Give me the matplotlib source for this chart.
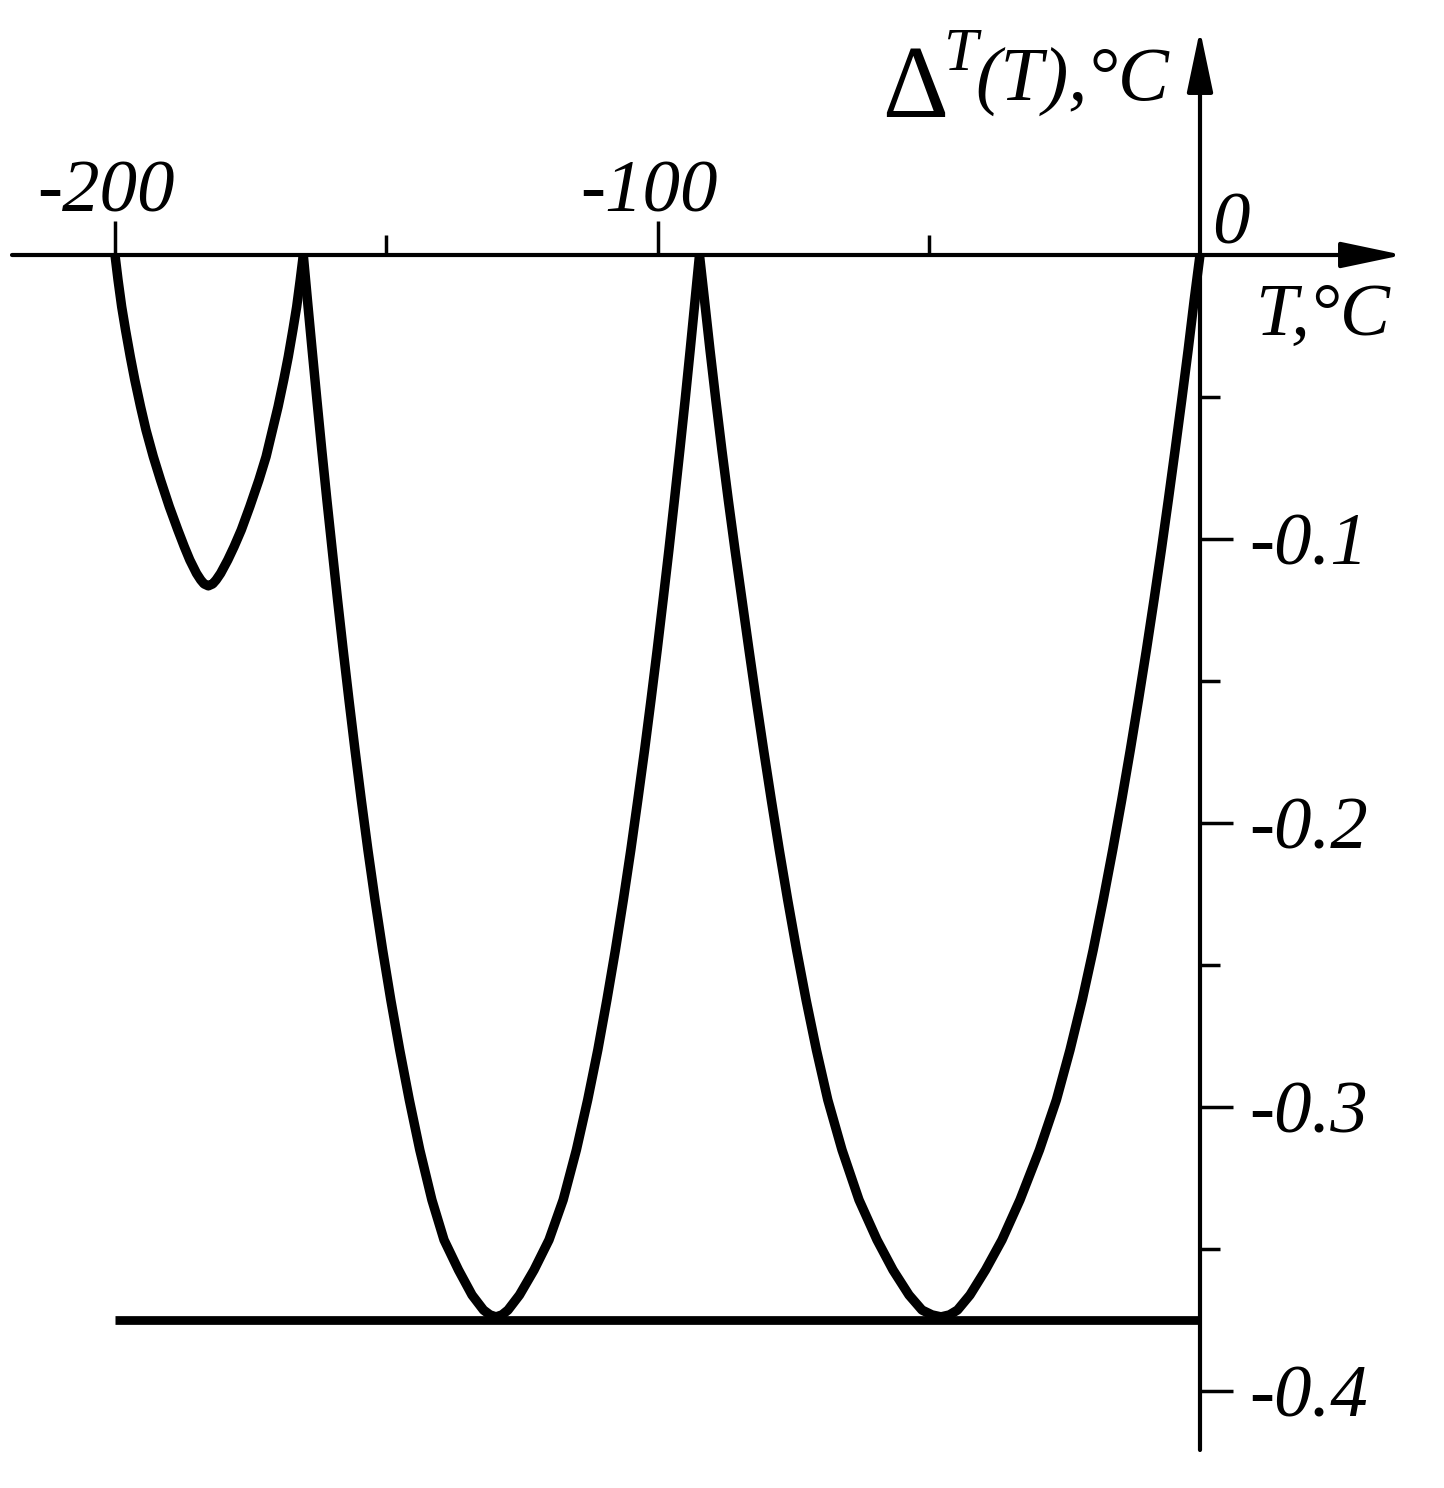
import matplotlib.pyplot as plt
import numpy as np

# error curve: three arcs between the zero points,
# each given as left branch down to the minimum, then right branch back up
t_arc1 = [-200.00, -199.44, -198.77, -198.06, -197.18, -196.35, -195.29, -194.29, -192.94,
          -191.61, -189.99, -188.42, -187.23, -186.21, -184.98, -184.20, -183.59, -182.80,
          -181.99, -181.35, -180.53, -179.21, -178.05, -176.72, -175.15, -173.47, -172.15,
          -170.97, -169.94, -168.90, -168.06, -167.21, -166.51, -165.86, -165.29]
d_arc1_levels = [0.0, -0.0088, -0.0182, -0.0264, -0.0358, -0.0440, -0.0534, -0.0616, -0.0710,
                 -0.0792, -0.0886, -0.0968, -0.1027, -0.1074, -0.1121, -0.1144, -0.1158, -0.1165]

t_arc2 = [-165.29, -164.53, -163.66, -162.78, -161.88, -160.94, -159.96, -158.97, -157.94,
          -156.87, -155.76, -154.60, -153.38, -152.07, -150.67, -149.16, -147.52, -145.75,
          -143.82, -141.59, -139.35, -136.68, -134.19, -132.07, -130.88, -129.77,
          -128.66, -127.56, -125.44, -122.76, -120.00, -117.39, -114.95, -112.87, -111.00,
          -109.33, -107.76, -106.30, -104.92, -103.63, -102.38, -101.20, -100.06, -98.97,
          -97.90, -96.88, -95.88, -94.91, -93.98, -93.07, -92.26]

t_arc3 = [-92.26, -91.34, -90.32, -89.25, -88.13, -86.95, -85.71, -84.42, -83.13,
          -81.81, -80.44, -79.02, -77.55, -76.00, -74.36, -72.61, -70.71, -68.61,
          -65.99, -62.86, -59.54, -56.59, -53.64, -51.24, -49.40, -47.74,
          -46.18, -44.70, -42.40, -39.54, -36.50, -33.18, -29.59, -26.47, -23.96,
          -21.71, -19.69, -17.84, -16.09, -14.43, -12.85, -11.34, -9.88, -8.48,
          -7.13, -5.84, -4.59, -3.37, -2.19, -1.07, 0.0]

# error levels shared by arcs 2 and 3
d_deep_levels = [0.0, -0.0158, -0.0335, -0.0511, -0.0687, -0.0863, -0.1039, -0.1215, -0.1391,
                 -0.1567, -0.1743, -0.1919, -0.2095, -0.2271, -0.2447, -0.2623, -0.2799,
                 -0.2975, -0.3151, -0.3327, -0.3468, -0.3574, -0.3662, -0.3715, -0.3732,
                 -0.3739]

# lower bound line
t_flat = [-200, 0]
d_flat = [-0.375, -0.375]

x_major = [-200, -100]
x_minor = [-150, -50]
y_major = [-0.1, -0.2, -0.3, -0.4]
y_minor = [-0.05, -0.15, -0.25, -0.35]

d_arc1 = d_arc1_levels + d_arc1_levels[-2::-1]
d_arc2 = d_deep_levels + d_deep_levels[-2::-1]
d_arc3 = d_arc2

plt.rcParams['font.family'] = ['Liberation Serif', 'DejaVu Serif']
plt.rcParams['font.style'] = 'italic'

W, H, DPI = 1444, 1488, 100
fig = plt.figure(figsize=(W / DPI, H / DPI), dpi=DPI)
ax = fig.add_axes([0, 0, 1, 1])

# scale of the drawing: origin at pixel (1200, 255)
x0, sx = 1200, 5.425
y0, sy = 255, 2840
ax.set_xlim(-x0 / sx, (W - x0) / sx)
ax.set_ylim(-(H - y0) / sy, y0 / sy)


def fig_xy(px, py):
    return px / W, 1 - py / H


for t, d in [(t_arc1, d_arc1), (t_arc2, d_arc2), (t_arc3, d_arc3)]:
    ax.plot(t, d, color='black', lw=6.8, solid_capstyle='butt', solid_joinstyle='round')
ax.plot(t_flat, d_flat, color='black', lw=6.3, solid_capstyle='butt')

# axes through the origin
for s in ax.spines.values():
    s.set_visible(False)
ax.spines['top'].set_position(('data', 0))
ax.spines['right'].set_position(('data', 0))
ax.xaxis.set_ticks_position('top')
ax.yaxis.set_ticks_position('right')

arrow = dict(arrowstyle='-|>,head_length=3.8,head_width=0.8', color='black',
             lw=3.0, shrinkA=0, shrinkB=0, mutation_scale=10)
ax.annotate('', xy=((1403 - x0) / sx, 0), xytext=((12 - x0) / sx, 0), arrowprops=arrow)
ax.annotate('', xy=(0, (y0 - 30) / sy), xytext=(0, (y0 - 1450) / sy), arrowprops=arrow)

ax.set_xticks(x_major)
ax.set_xticklabels([])
ax.set_xticks(x_minor, minor=True)
ax.set_yticks(y_major)
ax.set_yticklabels([str(v) for v in y_major])
ax.set_yticks(y_minor, minor=True)

ax.tick_params(which='both', direction='out', width=2.5, colors='black', labelsize=54)
ax.tick_params(axis='x', which='major', length=24.5)
ax.tick_params(axis='x', which='minor', length=14.4)
ax.tick_params(axis='y', which='major', length=23.5, pad=12)
ax.tick_params(axis='y', which='minor', length=14.4)

# T labels sit a little left of their ticks, above the axis
for v in x_major:
    fig.text(*fig_xy(x0 + sx * v - 9, 211), str(v), fontsize=54, ha='center', va='baseline')

fig.text(*fig_xy(1212, 243), '0', fontsize=54, va='baseline', ha='left')
fig.text(*fig_xy(1255, 335), 'T,°C', fontsize=54, va='baseline', ha='left')
fig.text(*fig_xy(882, 117), 'Δ', fontsize=74, style='normal', va='baseline', ha='left')
fig.text(*fig_xy(944, 70), 'T', fontsize=44, va='baseline', ha='left')
fig.text(*fig_xy(975, 100), '(T),°C', fontsize=55, va='baseline', ha='left')

fig.savefig('out.png', dpi=DPI, facecolor='white')
